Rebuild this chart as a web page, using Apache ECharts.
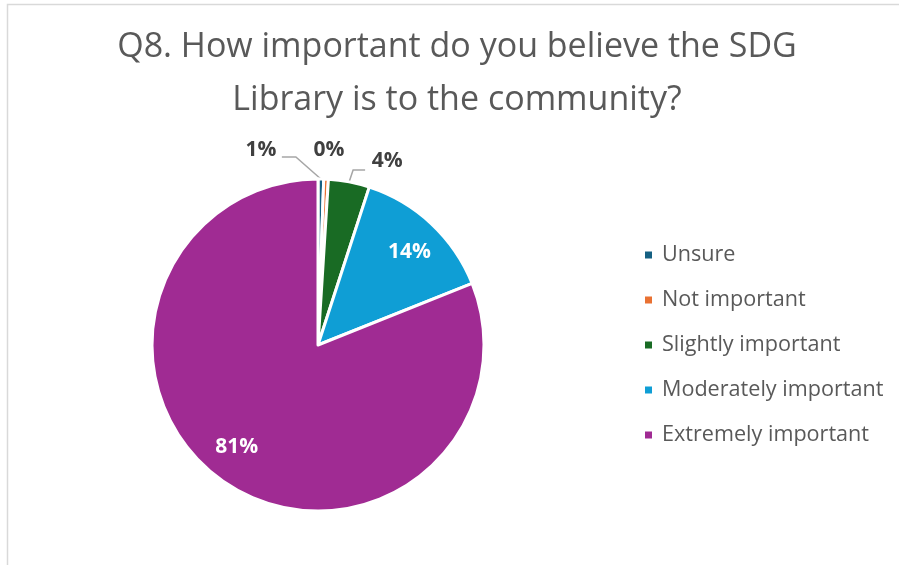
<!DOCTYPE html>
<html>
<head>
<meta charset="utf-8">
<script src="https://cdn.jsdelivr.net/npm/echarts@6/dist/echarts.min.js"></script>
<style>html,body{margin:0;padding:0;background:#fff;}#c{width:899px;height:565px;}</style>
</head>
<body>
<div id="c"></div>
<script>
const categories = ['Unsure', 'Not important', 'Slightly important', 'Moderately important', 'Extremely important'];
const values = [0.55, 0.45, 4.0, 13.95, 81.05];
const labelTexts = ['1%', '0%', '4%', '14%', '81%'];
const colors = ['#156082', '#E97132', '#196B24', '#0F9ED5', '#A02B93'];
const insideFlags = [false, false, false, true, true];

const CX = 318, CY = 345, R = 166;
// label placement tweaks relative to the library-computed anchor
const outsideOffsets = {
  0: { lx: -60, ly: -29, line: [[-25, -22], [-39, -22]] },
  1: { lx: 3, ly: -29, line: null },
  2: { lx: 38, ly: -21, line: [[4, -12], [16, -12]] }
};
const insideOffsets = { 3: [2.5, 2], 4: [-8.5, -6] };
const INSIDE_R = 130;

const chart = echarts.init(document.getElementById('c'));
const data = categories.map((name, i) => {
  const item = { name: name, value: values[i], itemStyle: { color: colors[i] } };
  if (insideFlags[i]) {
    item.label = { position: 'inside', color: '#ffffff' };
    item.labelLine = { show: false };
  } else {
    item.label = { position: 'outside', color: '#404040' };
  }
  return item;
});

chart.setOption({
  backgroundColor: '#ffffff',
  animation: false,
  graphic: [{
    type: 'rect',
    shape: { x: 7.5, y: 4.5, width: 1000, height: 1000 },
    style: { fill: 'none', stroke: '#d9d9d9', lineWidth: 1.5 },
    silent: true
  }],
  title: {
    text: 'Q8. How important do you believe the SDG\nLibrary is to the community?',
    left: 457, top: 21, textAlign: 'center', padding: 0,
    textStyle: { fontFamily: 'Open Sans', fontSize: 34, fontWeight: 'normal', color: '#595959', lineHeight: 53 }
  },
  legend: {
    orient: 'vertical',
    left: 643, top: 242, padding: 0,
    itemWidth: 9, itemHeight: 9, itemGap: 19,
    icon: 'rect',
    data: categories,
    textStyle: { fontFamily: 'Open Sans', fontSize: 21.6, color: '#595959', lineHeight: 26, padding: [0, 0, 0, 4] }
  },
  series: [{
    type: 'pie',
    center: [CX, CY],
    radius: R,
    startAngle: 90,
    clockwise: true,
    avoidLabelOverlap: false,
    itemStyle: { borderColor: '#ffffff', borderWidth: 3 },
    label: {
      formatter: (p) => labelTexts[p.dataIndex],
      fontFamily: 'Open Sans', fontSize: 21, fontWeight: 'bold'
    },
    labelLine: { show: true, length: 12, length2: 22, lineStyle: { color: '#a6a6a6', width: 1.5 } },
    labelLayout: function (params) {
      const i = params.dataIndex;
      const rect = params.labelRect;
      if (insideFlags[i]) {
        const mx = rect.x + rect.width / 2 - CX, my = rect.y + rect.height / 2 - CY;
        const len = Math.sqrt(mx * mx + my * my) || 1;
        const off = insideOffsets[i] || [0, 0];
        return { x: CX + mx / len * INSIDE_R + off[0], y: CY + my / len * INSIDE_R + off[1], align: 'center', verticalAlign: 'middle' };
      }
      const o = outsideOffsets[i];
      const p0 = params.labelLinePoints ? params.labelLinePoints[0] : [CX, CY - R];
      const res = { x: p0[0] + o.lx, y: p0[1] + o.ly, align: 'center', verticalAlign: 'middle' };
      if (o.line) {
        res.labelLinePoints = [p0, [p0[0] + o.line[0][0], p0[1] + o.line[0][1]], [p0[0] + o.line[1][0], p0[1] + o.line[1][1]]];
      } else {
        res.labelLinePoints = [p0, p0, p0];
      }
      return res;
    },
    data: data
  }]
});
</script>
</body>
</html>
